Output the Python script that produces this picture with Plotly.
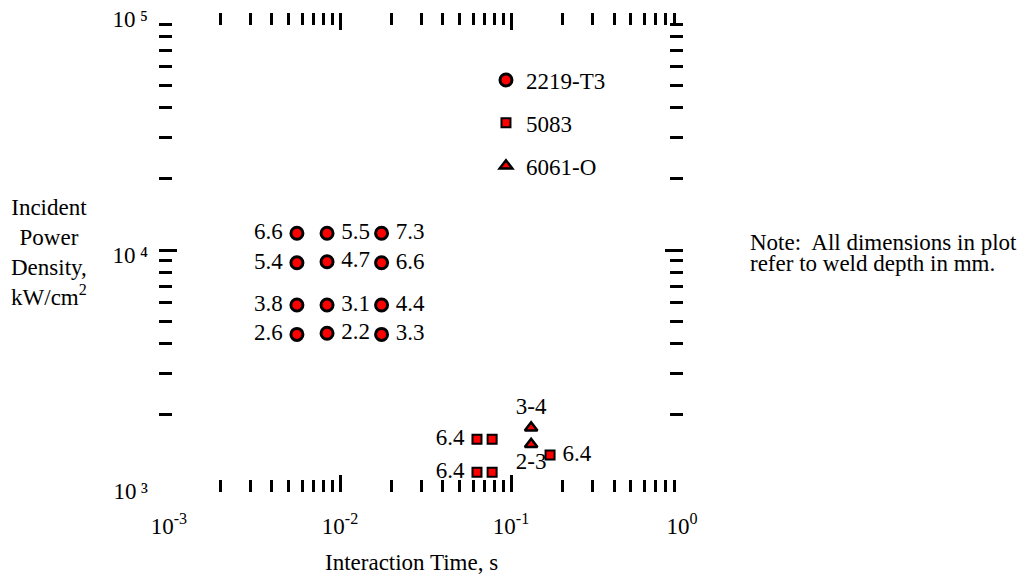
import plotly.graph_objects as go

# ---- data ----
al2219_x = [0.0056, 0.0084, 0.0175,
            0.0056, 0.0084, 0.0175,
            0.0056, 0.0084, 0.0175,
            0.0056, 0.0084, 0.0175]
al2219_y = [11770, 11770, 11770,
            8830, 8920, 8830,
            5850, 5850, 5850,
            4390, 4440, 4390]
al2219_depth = ["6.6", "5.5", "7.3",
                "5.4", "4.7", "6.6",
                "3.8", "3.1", "4.4",
                "2.6", "2.2", "3.3"]
al2219_pos = ["middle left", "middle right", "middle right"] * 4

al5083_x = [0.0632, 0.0775, 0.0632, 0.0775, 0.169]
al5083_y = [1577, 1577, 1143, 1143, 1353]
al5083_depth = ["6.4", "", "6.4", "", "6.4"]
al5083_pos = ["middle left", "middle right", "middle left", "middle right", "middle right"]

al6061_x = [0.131, 0.131]
al6061_y = [1766, 1502]
al6061_depth = ["3-4", "2-3"]
al6061_pos = ["top center", "bottom center"]

x_major = [1e-3, 1e-2, 1e-1, 1e0]
x_major_text = ["10<sup>-3</sup>", "10<sup>-2</sup>", "10<sup>-1</sup>", "10<sup>0</sup>"]
y_major = [1e3, 1e4, 1e5]
y_major_text = ["10\u2009\u00b3", "10\u2009\u2074", "10\u2009\u2075"]
x_inner_major = [1e-2, 1e-1]
y_inner_major = [1e4]
x_minor = [m * d for d in (1e-3, 1e-2, 1e-1) for m in range(2, 10)]
y_minor = [m * d for d in (1e3, 1e4) for m in range(2, 10)]

FONT = "Liberation Serif, Times New Roman, serif"
FS = 23
RED = "#ff0000"
NB = "\u00a0"


def pad(labels, positions):
    out = []
    for t, p in zip(labels, positions):
        if t and p.endswith("left"):
            out.append(t + NB)
        elif t and p.endswith("right"):
            out.append(NB + t)
        else:
            out.append(t)
    return out


fig = go.Figure()

fig.add_trace(go.Scatter(
    x=al2219_x, y=al2219_y, mode="markers+text", name="2219-T3",
    text=pad(al2219_depth, al2219_pos), textposition=al2219_pos,
    textfont=dict(family=FONT, size=FS, color="black"),
    marker=dict(symbol="circle", size=12, color=RED, line=dict(color="black", width=3)),
    legendgroup="a", hoverinfo="skip"))
fig.add_trace(go.Scatter(
    x=al5083_x, y=al5083_y, mode="markers+text", name="5083",
    text=pad(al5083_depth, al5083_pos), textposition=al5083_pos,
    textfont=dict(family=FONT, size=FS, color="black"),
    marker=dict(symbol="square", size=9, color=RED, line=dict(color="black", width=2)),
    legendgroup="b", hoverinfo="skip"))
fig.add_trace(go.Scatter(
    x=al6061_x, y=al6061_y, mode="markers+text", name="6061-O",
    text=al6061_depth, textposition=al6061_pos,
    textfont=dict(family=FONT, size=FS, color="black"),
    marker=dict(symbol="triangle-up", size=11, color=RED, line=dict(color="black", width=2.5)),
    legendgroup="c", hoverinfo="skip"))
# helper traces so the overlay tick axes are drawn
for xa, ya in (("x2", "y2"), ("x3", "y3")):
    fig.add_trace(go.Scatter(x=[None], y=[None], xaxis=xa, yaxis=ya,
                             showlegend=False, hoverinfo="skip"))

XR = [-3.058, 0.005]
YR = [2.9746, 5.0042]
TW = 3
W, H = 1024, 580  # page body adds an 8px margin

common = dict(type="log", showgrid=False, zeroline=False, showline=False,
              automargin=False)


def tick_axis(rng, vals, length, overlay, anchor, side):
    return dict(common, range=rng, overlaying=overlay, anchor=anchor, side=side,
                tickmode="array", tickvals=vals, ticks="inside", ticklen=length,
                tickwidth=TW, tickcolor="black", mirror="ticks", showticklabels=False)


def note(text, y):
    return dict(text=text, xref="paper", yref="paper", x=1.124, y=y,
                xanchor="left", yanchor="middle", showarrow=False, align="left",
                font=dict(family=FONT, size=FS, color="black"))


fig.update_layout(
    width=W, height=H,
    margin=dict(l=151, r=349, t=5, b=96, autoexpand=False),
    paper_bgcolor="white", plot_bgcolor="white",
    font=dict(family=FONT, size=FS, color="black"),
    showlegend=True,
    legend=dict(x=0.624, y=0.905, xanchor="left", yanchor="top",
                font=dict(family=FONT, size=FS, color="black"),
                tracegroupgap=10, bgcolor="rgba(0,0,0,0)"),
    xaxis=dict(common, range=XR, tickmode="array", tickvals=x_major, ticktext=x_major_text,
               ticks="", ticklabelstandoff=18,
               tickfont=dict(family=FONT, size=FS, color="black")),
    yaxis=dict(common, range=YR, tickmode="array", tickvals=y_major, ticktext=y_major_text,
               ticks="", ticklabelstandoff=10, ticklabelshift=5, ticklabeloverflow="allow",
               tickfont=dict(family=FONT, size=FS, color="black")),
    xaxis2=tick_axis(XR, x_minor, 12, "x", "y2", "bottom"),
    yaxis2=tick_axis(YR, y_minor, 13, "y", "x2", "left"),
    xaxis3=tick_axis(XR, x_inner_major, 17, "x", "y3", "bottom"),
    yaxis3=tick_axis(YR, y_inner_major, 18, "y", "x3", "left"),
    annotations=[
        dict(text="Incident<br>Power<br>Density,<br>kW/cm<sup>2</sup>",
             xref="paper", yref="paper", x=-0.21, y=0.50,
             xanchor="center", yanchor="middle", showarrow=False, align="center",
             font=dict(family=FONT, size=FS, color="black")),
        dict(text="Interaction Time, s",
             xref="paper", yref="paper", x=0.313, y=-0.148,
             xanchor="left", yanchor="middle", showarrow=False,
             font=dict(family=FONT, size=FS, color="black")),
        note("Note:" + NB + " All dimensions in plot", 0.520),
        note("refer to weld depth in mm.", 0.476),
    ],
)

fig.write_html("out.html")
